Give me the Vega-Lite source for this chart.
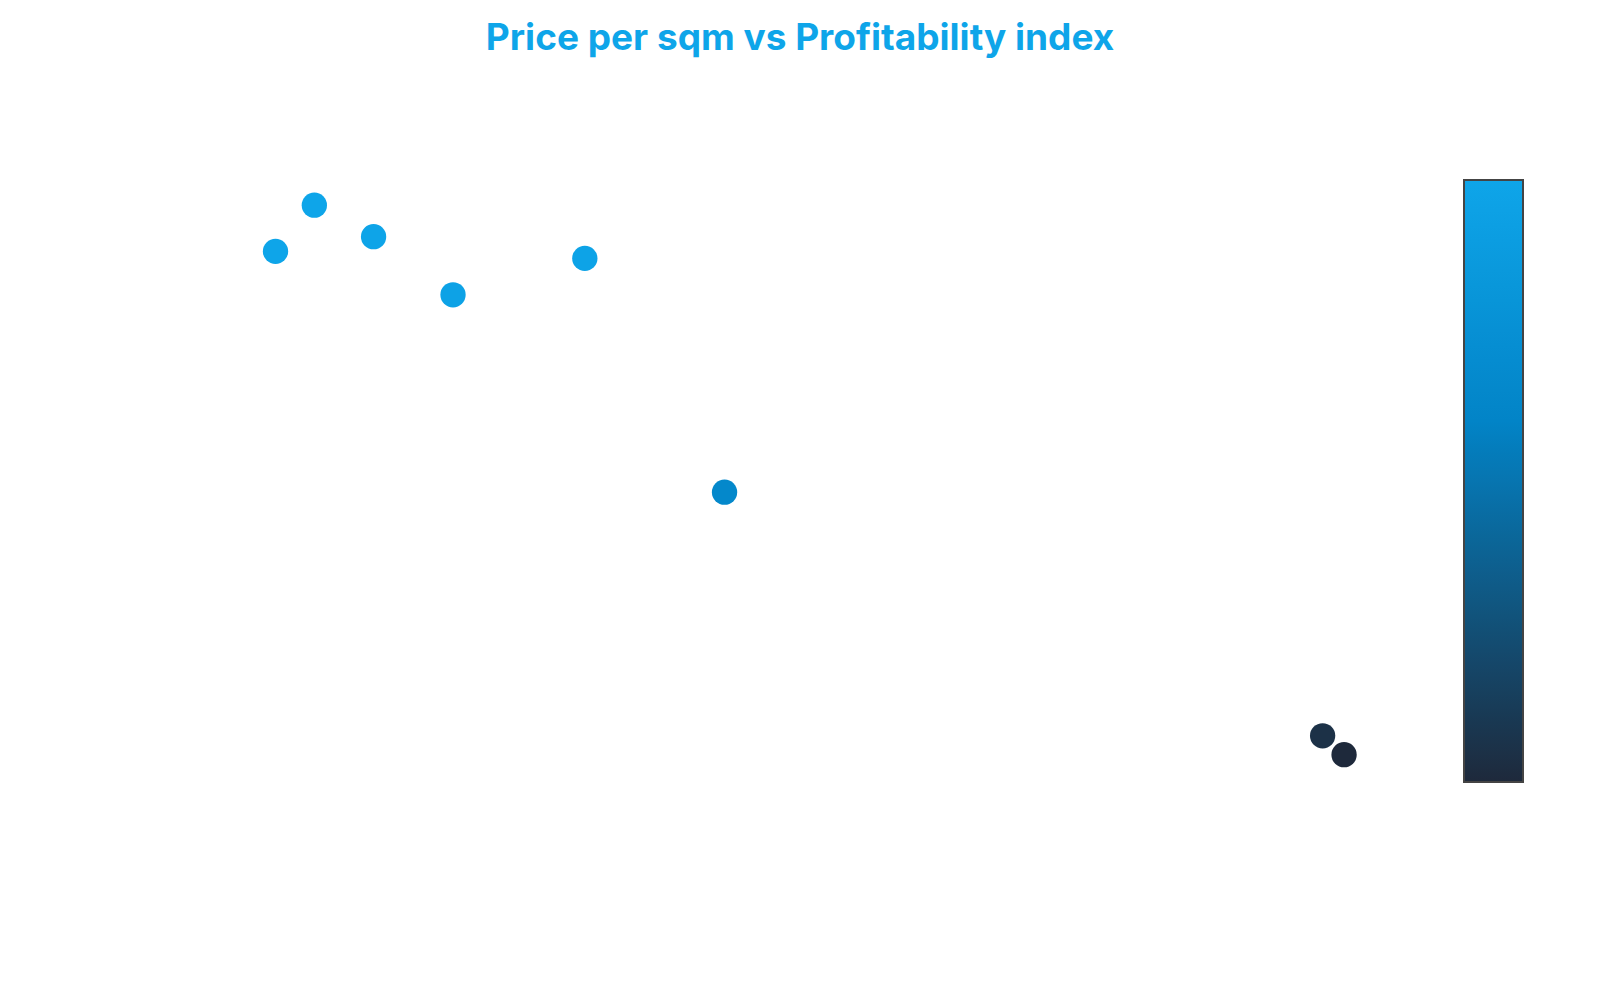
{
  "$schema": "https://vega.github.io/schema/vega-lite/v6.json",
  "autosize": "none",
  "padding": {"left": 40, "top": 180, "right": 154, "bottom": 120},
  "width": 1406,
  "height": 700,
  "background": "white",
  "title": {
    "text": "Price per sqm vs Profitability index",
    "color": "#0ea5e9",
    "font": "Inter",
    "fontSize": 37,
    "fontWeight": "bold",
    "anchor": "middle",
    "dx": 57,
    "offset": 112
  },
  "config": {"view": {"stroke": null}},
  "data": {
    "values": [
      {"price_sqm": 1340, "pi": 8.98, "score": 100},
      {"price_sqm": 1561, "pi": 9.64, "score": 100},
      {"price_sqm": 1898, "pi": 9.19, "score": 99},
      {"price_sqm": 2350, "pi": 8.36, "score": 96},
      {"price_sqm": 3100, "pi": 8.88, "score": 98},
      {"price_sqm": 3895, "pi": 5.54, "score": 65},
      {"price_sqm": 7298, "pi": 2.06, "score": 5},
      {"price_sqm": 7420, "pi": 1.79, "score": 0}
    ]
  },
  "encoding": {
    "x": {"field": "price_sqm", "type": "quantitative", "scale": {"domain": [0, 8000]}, "axis": null},
    "y": {"field": "pi", "type": "quantitative", "scale": {"domain": [0, 10]}, "axis": null}
  },
  "layer": [
    {
      "mark": {"type": "circle", "size": 640, "opacity": 1},
      "encoding": {
        "color": {
          "field": "score",
          "type": "quantitative",
          "scale": {"domain": [0, 60, 100], "range": ["#1e293b", "#0284c7", "#0ea5e9"], "interpolate": "rgb"},
          "legend": {
            "title": null,
            "gradientLength": 602,
            "gradientThickness": 59,
            "gradientStrokeColor": "#444444",
            "gradientStrokeWidth": 2,
            "labelColor": "white",
            "offset": 18
          }
        }
      }
    },
    {
      "mark": {"type": "text", "color": "white", "fontSize": 14, "fontWeight": "bold", "dy": -28},
      "encoding": {
        "text": {"field": "pi", "type": "quantitative", "format": ".1f"}
      }
    }
  ]
}
